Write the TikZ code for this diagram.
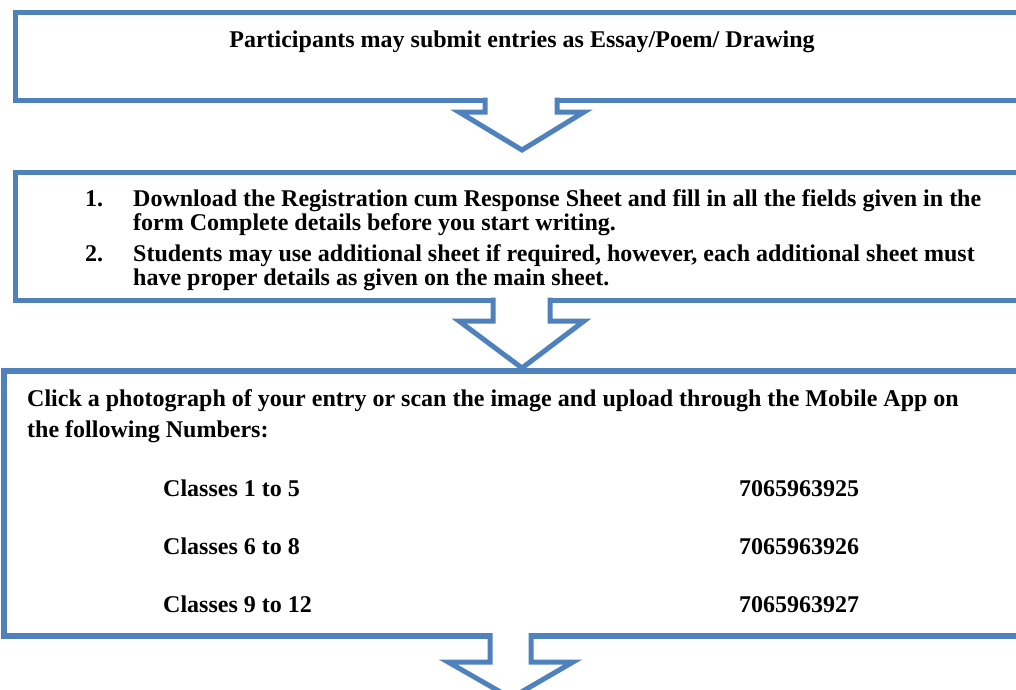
\documentclass[tikz,border=0pt]{standalone}
\usepackage{fontspec}
\setmainfont{Liberation Serif}
\definecolor{wblue}{HTML}{4F81BD}
\begin{document}
\begin{tikzpicture}[x=1pt,y=-1pt,
  boxframe/.style={draw=wblue, line width=5pt, fill=white, rectangle, inner sep=0pt, outer sep=0pt},
  arrowline/.style={draw=wblue, line width=5pt, line join=miter},
  arrowfill/.style={fill=white},
  txt/.style={anchor=base west, inner sep=0pt, font=\fontsize{24}{28}\selectfont\bfseries}
]
\useasboundingbox (0,0) rectangle (1016,689);
\clip (0,0) rectangle (1016,689);
% boxes
\node[boxframe, minimum width=1015pt, minimum height=88pt] (b1) at (522.5,56) {};
\node[boxframe, minimum width=1015pt, minimum height=128pt] (b2) at (522.5,236) {};
\node[boxframe, line width=6pt, minimum width=1026pt, minimum height=265pt] (b3) at (517,503.5) {};
% block arrows
\coordinate (a1) at (522,150);
\fill[arrowfill] (485,97) -- (485,112) -- (459,112) -- (a1) -- (584,112) -- (557,112) -- (557,97) -- cycle;
\draw[arrowline] (485,97.5) -- (485,112) -- (459,112) -- (a1) -- (584,112) -- (557,112) -- (557,97.5);
\coordinate (a2) at (522,368);
\fill[arrowfill] (493,297) -- (493,321) -- (459,321) -- (a2) -- (584,321) -- (550,321) -- (550,297) -- cycle;
\draw[arrowline] (493,297.5) -- (493,321) -- (459,321) -- (a2) -- (584,321) -- (550,321) -- (550,297.5);
\coordinate (a3) at (511,698);
\fill[arrowfill] (490,632) -- (490,662) -- (448,662) -- (a3) -- (573,662) -- (531,662) -- (531,632) -- cycle;
\draw[arrowline] (490,633) -- (490,662) -- (448,662) -- (a3) -- (573,662) -- (531,662) -- (531,633);
% texts
\node[txt, anchor=base] (t1) at (522,47) {Participants may submit entries as Essay/Poem/ Drawing};
\node[txt] (n1) at (85,206) {1.};
\node[txt] (l1) at (133,206) {Download the Registration cum Response Sheet and fill in all the fields given in the};
\node[txt] (l2) at (133,230) {form Complete details before you start writing.};
\node[txt] (n2) at (85,261) {2.};
\node[txt] (l3) at (133,261) {Students may use additional sheet if required, however, each additional sheet must};
\node[txt] (l4) at (133,285) {have proper details as given on the main sheet.};
\node[txt] (c1) at (27,406) {Click a photograph of your entry or scan the image and upload through the Mobile App on};
\node[txt] (c2) at (27,437) {the following Numbers:};
\node[txt] (k1) at (163,496) {Classes 1 to 5};
\node[txt] (p1) at (739,496) {7065963925};
\node[txt] (k2) at (163,554) {Classes 6 to 8};
\node[txt] (p2) at (739,554) {7065963926};
\node[txt] (k3) at (163,612) {Classes 9 to 12};
\node[txt] (p3) at (739,612) {7065963927};
\end{tikzpicture}
\end{document}
